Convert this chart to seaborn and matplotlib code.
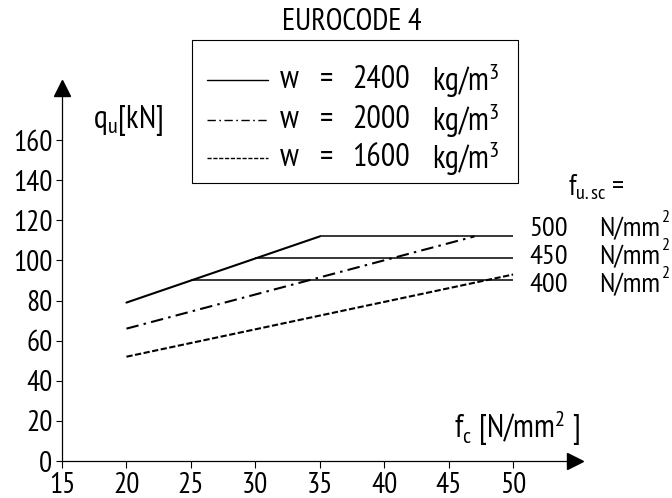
import numpy as np
import pandas as pd
import matplotlib
matplotlib.use("Agg")
import matplotlib.pyplot as plt
from matplotlib import font_manager
from matplotlib.lines import Line2D
from matplotlib.patches import Rectangle
import seaborn as sns

# ---------------- data ----------------
series_names = ["2400", "2000", "1600"]
fc_2400 = [20, 35]
qu_2400 = [79, 112]
fc_2000 = [20, 47]
qu_2000 = [66, 112]
fc_1600 = [20, 50]
qu_1600 = [52, 93]

cap_labels = ["500", "450", "400"]
cap_levels = [112, 101, 90.5]
cap_start = [35, 30, 25]
cap_end = [50, 50, 50]

x_ticks = [15, 20, 25, 30, 35, 40, 45, 50]
y_ticks = [0, 20, 40, 60, 80, 100, 120, 140, 160]

# ---------------- style ----------------
sns.set_theme(style="white")
names = {f.name for f in font_manager.fontManager.ttflist}
FONT = "DejaVu Sans"
for cand in ["Liberation Sans Narrow", "Arial Narrow", "PT Sans Narrow", "Archivo Narrow",
             "Roboto Condensed", "Encode Sans Condensed", "Open Sans Condensed"]:
    if cand in names:
        FONT = cand
        break
plt.rcParams["font.family"] = [FONT, "DejaVu Sans"]
plt.rcParams["mathtext.fontset"] = "custom"
plt.rcParams["mathtext.rm"] = FONT
plt.rcParams["mathtext.it"] = FONT
plt.rcParams["mathtext.default"] = "rm"
plt.rcParams["text.color"] = "black"
plt.rcParams["xtick.color"] = "black"
plt.rcParams["ytick.color"] = "black"

W, H = 672, 498
fig = plt.figure(figsize=(W / 100, H / 100), dpi=100)

def fx(px):
    return px / W

def fy(py):
    return 1 - py / H

xmax, ymax = 54.8, 186
ax = fig.add_axes([fx(62), fy(461), fx(575) - fx(62), fy(88) - fy(461)])
ax.set_xlim(15, xmax)
ax.set_ylim(0, ymax)

df = pd.concat([
    pd.DataFrame({"fc": fc_2400, "qu": qu_2400, "w": series_names[0]}),
    pd.DataFrame({"fc": fc_2000, "qu": qu_2000, "w": series_names[1]}),
    pd.DataFrame({"fc": fc_1600, "qu": qu_1600, "w": series_names[2]}),
])
dashes = {"2400": "", "2000": (6, 2.5, 1.2, 2.5), "1600": (3, 1.2)}
sns.lineplot(data=df, x="fc", y="qu", style="w", dashes=dashes,
             color="black", linewidth=1.5, legend=False, ax=ax,
             estimator=None, sort=False)

ax.hlines(cap_levels, cap_start, cap_end, colors="black", linewidth=1.1)

# axes look
for s in ["top", "right"]:
    ax.spines[s].set_visible(False)
for s in ["left", "bottom"]:
    ax.spines[s].set_color("black")
    ax.spines[s].set_linewidth(0.9)
ax.set_xticks(x_ticks)
ax.set_yticks(y_ticks)
ax.tick_params(axis="x", direction="out", length=5, width=0.8, pad=3,
               labelsize=21, colors="black", bottom=True)
ax.tick_params(axis="y", direction="out", length=4, width=0.8, pad=3,
               labelsize=21, colors="black", left=True)
ax.set_xlabel("")
ax.set_ylabel("")
ax.grid(False)

# arrow heads
ax.plot(1, 0, marker=">", color="black", markersize=11, transform=ax.transAxes, clip_on=False)
ax.plot(0, 1, marker="^", color="black", markersize=11, transform=ax.transAxes, clip_on=False)

# axis labels
LBL = 23
ax.text(fx(93), fy(121), r"q$_\mathrm{u}$[kN]", transform=fig.transFigure,
        fontsize=LBL, ha="left", va="center")
ax.text(fx(454), fy(428), r"f$_\mathrm{c}$ [N/mm$^2$ ]", transform=fig.transFigure,
        fontsize=LBL, ha="left", va="center")

# right labels
RL = 20.5
ax.text(fx(568), fy(187), r"f$_\mathrm{u.sc}$ =", transform=fig.transFigure,
        fontsize=21, ha="left", va="center")
for lab, ypix in zip(cap_labels, [229, 257, 285]):
    fig.text(fx(529), fy(ypix), lab, fontsize=RL, ha="left", va="center")
    fig.text(fx(660), fy(ypix), "N/mm", fontsize=RL, ha="right", va="center")
    fig.text(fx(661), fy(ypix - 11), "2", fontsize=13, ha="left", va="center")

# title
fig.text(fx(352), fy(22), "EUROCODE 4", fontsize=22, ha="center", va="center")

# legend box (manual)
fig.patches.append(Rectangle((fx(192), fy(183)), fx(518) - fx(192), fy(40) - fy(183),
                             transform=fig.transFigure, fill=False,
                             edgecolor="black", linewidth=0.8))
row_y = [80, 120, 158]
styles = ["-", (0, (6, 2.5, 1.2, 2.5)), (0, (3, 1.2))]
for name, ypix, ls in zip(series_names, row_y, styles):
    fig.lines.append(Line2D([fx(207), fx(268)], [fy(ypix), fy(ypix)],
                            transform=fig.transFigure, color="black",
                            linewidth=1.0, linestyle=ls))
    fig.text(fx(280), fy(ypix), "w", fontsize=LBL, ha="left", va="center")
    fig.text(fx(320), fy(ypix), "=", fontsize=LBL, ha="left", va="center")
    fig.text(fx(352), fy(ypix), name, fontsize=LBL, ha="left", va="center")
    fig.text(fx(432), fy(ypix), r"kg/m$^3$", fontsize=LBL, ha="left", va="center")

fig.savefig("out.png", dpi=100)
